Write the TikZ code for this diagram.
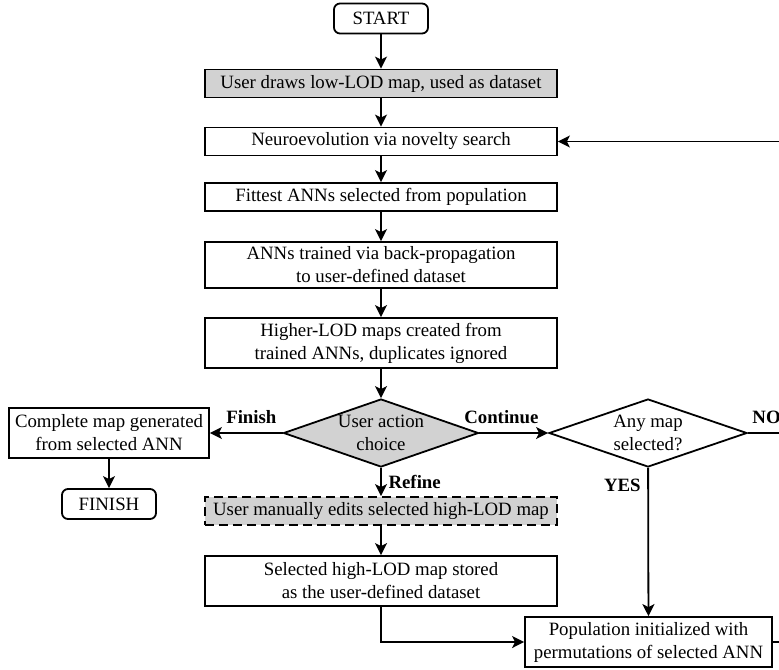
\documentclass[tikz,border=0pt]{standalone}
\usepackage{fontspec}
\setmainfont{Liberation Serif}
\usetikzlibrary{shapes.geometric,arrows.meta}
\begin{document}
\begin{tikzpicture}[x=0.5pt,y=-0.5pt,line width=0.9pt,
  font=\fontsize{9.4}{11.5}\selectfont,
  >={Stealth[length=6pt,width=6pt,inset=1.5pt]},
  proc/.style={draw,rectangle,minimum width=176pt,minimum height=14pt,inner sep=1pt,align=center},
  procg/.style={proc,fill=gray!35},
  term/.style={draw,rectangle,rounded corners=3pt,minimum width=47pt,minimum height=15pt},
  decision/.style={draw,diamond,inner sep=0pt},
  lbl/.style={font=\fontsize{9.4}{11.5}\selectfont\bfseries}]
\useasboundingbox (0,0) rectangle (779,669);
\node[term] at (381,18.5) (start) {START};
\node[procg] at (381,83.5) (userdraw) {User draws low-LOD map, used as dataset};
\node[proc] at (381,141.5) (neuro) {Neuroevolution via novelty search};
\node[proc] at (381,197) (fittest) {Fittest ANNs selected from population};
\node[proc,minimum height=23pt] at (381,265) (train) {ANNs trained via back-propagation\\to user-defined dataset};
\node[proc,minimum height=25pt] at (381,343) (maps) {Higher-LOD maps created from\\trained ANNs, duplicates ignored};
\node[decision,fill=gray!35,minimum width=97.5pt,minimum height=34pt,
  label={[align=center]center:User action\\choice}] at (381,433) (choice) {};
\node[proc,minimum width=100pt,minimum height=25pt] at (109,433) (complete) {Complete map generated\\from selected ANN};
\node[term] at (109,504) (finish) {FINISH};
\node[procg,dashed,dash pattern=on 4.5pt off 2.5pt] at (381,511) (manual) {User manually edits selected high-LOD map};
\node[proc,minimum height=25pt] at (381,581) (stored) {Selected high-LOD map stored\\as the user-defined dataset};
\node[decision,minimum width=99pt,minimum height=34pt,
  label={[align=center]center:Any map\\selected?}] at (648,433) (anymap) {};
\node[proc,minimum width=123.5pt,minimum height=25pt] at (648.5,642) (pop) {Population initialized with\\permutations of selected ANN};
\coordinate (loopin) at (779,141.5);
\coordinate (noout) at (779,433);
\coordinate (popout) at (779,642);
\draw[->] (start) -- (userdraw);
\draw[->] (userdraw) -- (neuro);
\draw[->] (neuro) -- (fittest);
\draw[->] (fittest) -- (train);
\draw[->] (train) -- (maps);
\draw[->] (maps) -- (choice);
\draw[->] (choice) -- node[lbl,above=1pt,pos=0.43] {Finish} (complete);
\draw[->] (choice) -- node[lbl,above=1pt,pos=0.32] {Continue} (anymap);
\draw[->] (choice) -- node[lbl,right] {Refine} (manual);
\draw[->] (complete) -- (finish);
\draw[->] (manual) -- (stored);
\draw[->] (stored) |- (pop);
\draw[->] (anymap) -- node[lbl,left,pos=0.12] {YES} (pop);
\draw (anymap) -- node[lbl,above=1pt,pos=0.6] {NO} (noout);
\draw (pop) -- (popout);
\draw[->] (loopin) -- (neuro);
\end{tikzpicture}
\end{document}
